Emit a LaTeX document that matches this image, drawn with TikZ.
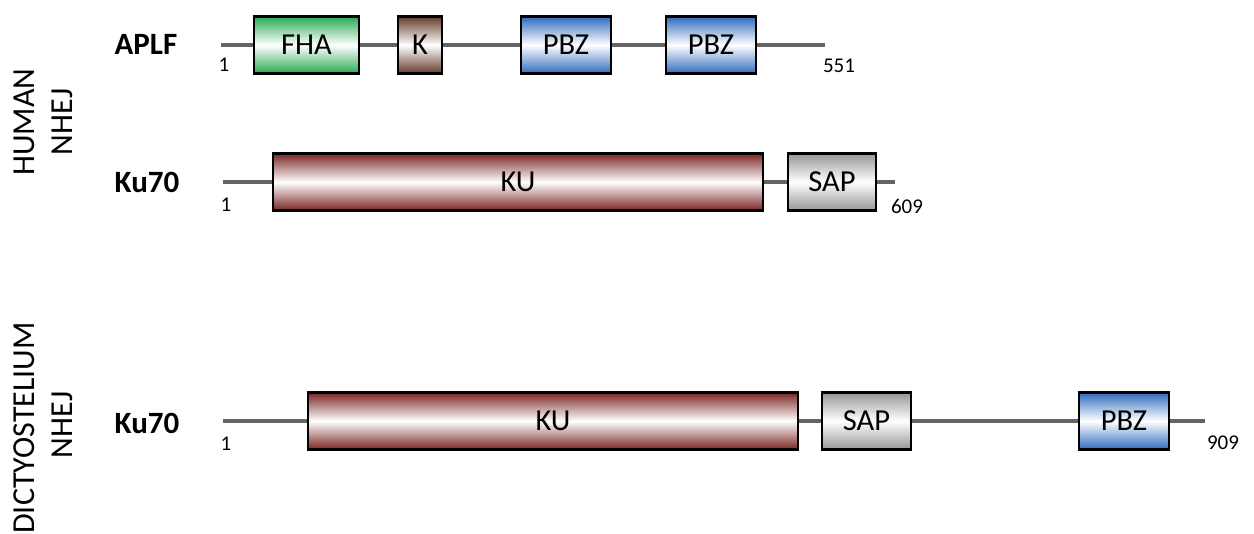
\documentclass[tikz,border=0pt]{standalone}
\usepackage{fontspec}
\setmainfont{Carlito}
\definecolor{fhagreen}{RGB}{40,170,80}
\definecolor{kbrown}{RGB}{100,58,42}
\definecolor{pbzblue}{RGB}{48,108,190}
\definecolor{kured}{RGB}{122,36,36}
\definecolor{sapgray}{RGB}{150,150,150}
\definecolor{linegray}{RGB}{100,100,100}
\tikzset{
  dombox/.style={draw=black, line width=2.6pt, inner sep=0pt, minimum height=57,
    font=\fontsize{30.5}{32}\selectfont},
  fill with/.style={top color=#1, bottom color=#1, middle color=white},
  backbone/.style={draw=linegray, line width=3.6pt},
  prot/.style={font=\bfseries\fontsize{31}{33}\selectfont},
  resnum/.style={font=\fontsize{21}{23}\selectfont},
  species/.style={rotate=90, font=\fontsize{32}{34}\selectfont}
}
\begin{document}
\begin{tikzpicture}[x=1pt,y=-1pt]
    \useasboundingbox (0,0) rectangle (1254,534);
    % human APLF
    \node[prot] (aplf) at (146,44) {APLF};
    \coordinate (aplfS) at (221,45);
    \coordinate (aplfE) at (825,45);
    \node[dombox, fill with=fhagreen, minimum width=105] (fha) at (306.5,45) {FHA};
    \node[dombox, fill with=kbrown, minimum width=44] (k) at (420,45) {K};
    \node[dombox, fill with=pbzblue, minimum width=90] (pbzA) at (566,45) {PBZ};
    \node[dombox, fill with=pbzblue, minimum width=90] (pbzB) at (711,45) {PBZ};
    \draw[backbone] (aplfS) -- (fha) (fha) -- (k) (k) -- (pbzA) (pbzA) -- (pbzB) (pbzB) -- (aplfE);
    \node[resnum] (aplfA) at (224,65) {1};
    \node[resnum] (aplfZ) at (839,66) {551};
    % human Ku70
    \node[prot] (hku) at (147,182) {Ku70};
    \coordinate (hkuS) at (223,182);
    \coordinate (hkuE) at (895,182);
    \node[dombox, fill with=kured, minimum width=490] (hkuD) at (518,182) {KU};
    \node[dombox, fill with=sapgray, minimum width=88] (hsap) at (832,182) {SAP};
    \draw[backbone] (hkuS) -- (hkuD) (hkuD) -- (hsap) (hsap) -- (hkuE);
    \node[resnum] (hkuA) at (226,205) {1};
    \node[resnum] (hkuZ) at (907,206) {609};
    % dictyostelium Ku70
    \node[prot] (dku) at (147,423) {Ku70};
    \coordinate (dkuS) at (223,421);
    \coordinate (dkuE) at (1205,421);
    \node[dombox, fill with=kured, minimum width=490] (dkuD) at (553,421) {KU};
    \node[dombox, fill with=sapgray, minimum width=89] (dsap) at (866.5,421) {SAP};
    \node[dombox, fill with=pbzblue, minimum width=90] (dpbz) at (1124,421) {PBZ};
    \draw[backbone] (dkuS) -- (dkuD) (dkuD) -- (dsap) (dsap) -- (dpbz) (dpbz) -- (dkuE);
    \node[resnum] (dkuA) at (226,444) {1};
    \node[resnum] (dkuZ) at (1223,443) {909};
    % side labels
    \node[species] (human) at (24,122) {HUMAN};
    \node[species] (hnhej) at (62,122) {NHEJ};
    \node[species] (dicty) at (24,428) {DICTYOSTELIUM};
    \node[species] (dnhej) at (62,425) {NHEJ};
\end{tikzpicture}
\end{document}
